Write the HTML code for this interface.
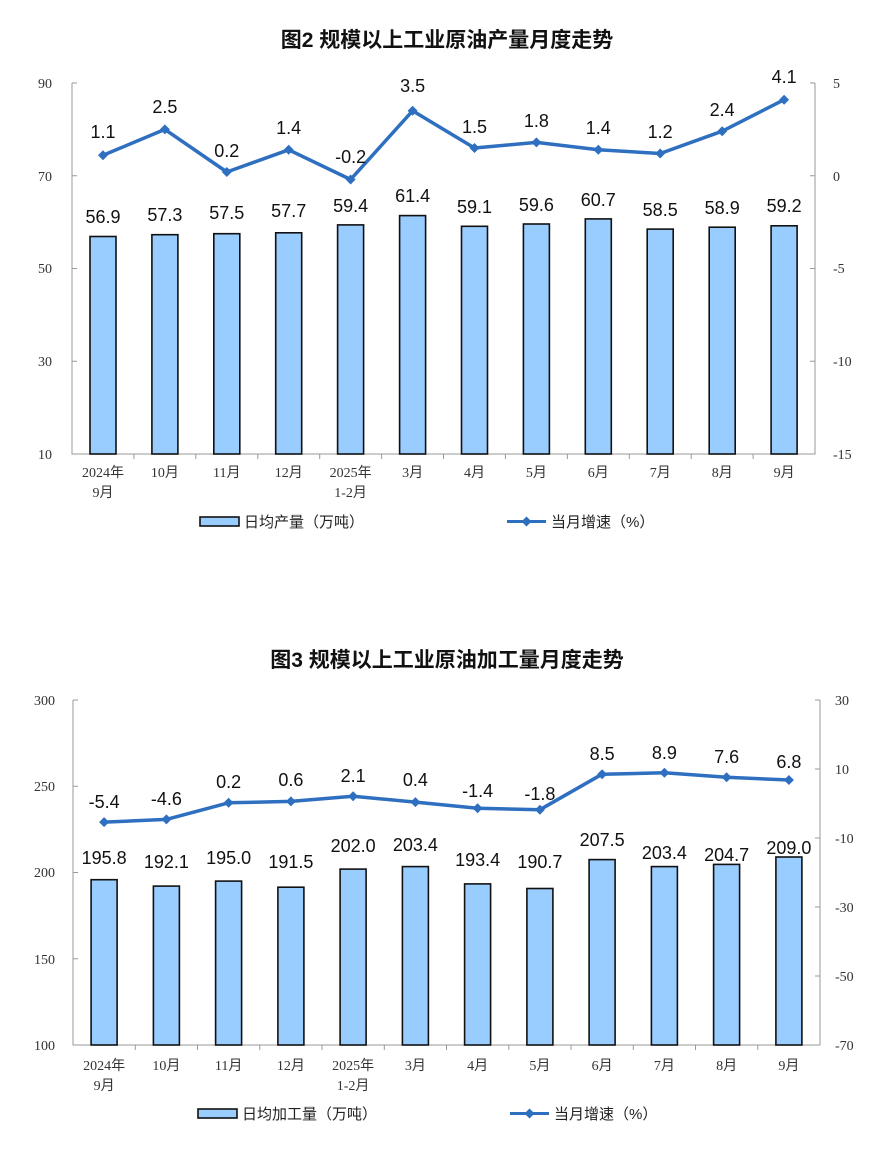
<!DOCTYPE html>
<html><head><meta charset="utf-8"><style>
html,body{margin:0;padding:0;background:#fff;}
svg{display:block;}
.t{font-family:"Liberation Sans","Noto Sans CJK SC",sans-serif;font-weight:bold;font-size:21px;fill:#111;}
.ax{font-family:"Liberation Serif","Noto Sans CJK SC",serif;font-size:14px;fill:#333;}
.cat{font-family:"Liberation Serif","Noto Sans CJK SC",serif;font-size:14px;fill:#333;}
.lb{font-family:"Liberation Sans","Noto Sans CJK SC",sans-serif;font-size:18px;fill:#111;}
.lg{font-family:"Liberation Sans","Noto Sans CJK SC",sans-serif;font-size:15px;fill:#222;}
.bar{fill:#99ccff;stroke:#111;stroke-width:1.6;}
.ln{fill:none;stroke:#2e6fc0;stroke-width:3.5;stroke-linejoin:round;}
.axl{stroke:#999;stroke-width:1;fill:none;}
</style></head><body>
<svg width="894" height="1155" viewBox="0 0 894 1155" xmlns="http://www.w3.org/2000/svg">
<defs><path id="dm" d="M0,-5 L5,0 L0,5 L-5,0Z" fill="#2e6fc0"/></defs>
<!-- Chart 1 -->
<text class="t" x="447" y="47" text-anchor="middle">图2  规模以上工业原油产量月度走势</text>
<path class="axl" d="M72,83 V454 H815 V83"/>
<path class="axl" d="M72,83h5M72,175.75h5M72,268.5h5M72,361.25h5M815,83h-5M815,175.75h-5M815,268.5h-5M815,361.25h-5M815,454h-5"/>
<path class="axl" d="M133.9,454v5M195.8,454v5M257.8,454v5M319.7,454v5M381.6,454v5M443.5,454v5M505.4,454v5M567.4,454v5M629.3,454v5M691.2,454v5M753.1,454v5"/>
<g class="ax" text-anchor="end"><text x="52" y="88">90</text><text x="52" y="181">70</text><text x="52" y="273">50</text><text x="52" y="366">30</text><text x="52" y="459">10</text></g>
<g class="ax"><text x="833" y="88">5</text><text x="833" y="181">0</text><text x="833" y="273">-5</text><text x="833" y="366">-10</text><text x="833" y="459">-15</text></g>
<g>
<rect class="bar" x="90" y="236.5" width="26" height="217.5"/>
<rect class="bar" x="151.9" y="234.7" width="26" height="219.3"/>
<rect class="bar" x="213.8" y="233.7" width="26" height="220.3"/>
<rect class="bar" x="275.7" y="232.8" width="26" height="221.2"/>
<rect class="bar" x="337.6" y="224.9" width="26" height="229.1"/>
<rect class="bar" x="399.6" y="215.6" width="26" height="238.4"/>
<rect class="bar" x="461.5" y="226.3" width="26" height="227.7"/>
<rect class="bar" x="523.4" y="224.0" width="26" height="230"/>
<rect class="bar" x="585.3" y="218.9" width="26" height="235.1"/>
<rect class="bar" x="647.2" y="229.1" width="26" height="224.9"/>
<rect class="bar" x="709.2" y="227.2" width="26" height="226.8"/>
<rect class="bar" x="771.1" y="225.8" width="26" height="228.2"/>
</g>
<g class="lb" text-anchor="middle">
<text x="103" y="223">56.9</text><text x="164.9" y="221">57.3</text><text x="226.8" y="219">57.5</text><text x="288.7" y="217">57.7</text><text x="350.6" y="212">59.4</text><text x="412.6" y="202">61.4</text><text x="474.5" y="213">59.1</text><text x="536.4" y="211">59.6</text><text x="598.3" y="206">60.7</text><text x="660.2" y="216">58.5</text><text x="722.2" y="214">58.9</text><text x="784.1" y="212">59.2</text>
</g>
<polyline class="ln" points="103,155.3 164.9,129.4 226.8,172 288.7,149.8 350.6,179.5 412.6,110.8 474.5,148 536.4,142.4 598.3,149.8 660.2,153.5 722.2,131.2 784.1,99.7"/>
<g><use href="#dm" x="103" y="155.3"/><use href="#dm" x="164.9" y="129.4"/><use href="#dm" x="226.8" y="172"/><use href="#dm" x="288.7" y="149.8"/><use href="#dm" x="350.6" y="179.5"/><use href="#dm" x="412.6" y="110.8"/><use href="#dm" x="474.5" y="148"/><use href="#dm" x="536.4" y="142.4"/><use href="#dm" x="598.3" y="149.8"/><use href="#dm" x="660.2" y="153.5"/><use href="#dm" x="722.2" y="131.2"/><use href="#dm" x="784.1" y="99.7"/></g>
<g class="lb" text-anchor="middle">
<text x="103" y="138">1.1</text><text x="164.9" y="113">2.5</text><text x="226.8" y="157">0.2</text><text x="288.7" y="134">1.4</text><text x="350.6" y="163">-0.2</text><text x="412.6" y="92">3.5</text><text x="474.5" y="133">1.5</text><text x="536.4" y="127">1.8</text><text x="598.3" y="134">1.4</text><text x="660.2" y="138">1.2</text><text x="722.2" y="116">2.4</text><text x="784.1" y="83">4.1</text>
</g>
<g class="cat" text-anchor="middle">
<text x="103" y="477">2024年</text><text x="103" y="497">9月</text><text x="164.9" y="477">10月</text><text x="226.8" y="477">11月</text><text x="288.7" y="477">12月</text><text x="350.6" y="477">2025年</text><text x="350.6" y="497">1-2月</text><text x="412.6" y="477">3月</text><text x="474.5" y="477">4月</text><text x="536.4" y="477">5月</text><text x="598.3" y="477">6月</text><text x="660.2" y="477">7月</text><text x="722.2" y="477">8月</text><text x="784.1" y="477">9月</text>
</g>
<rect x="200" y="517" width="39" height="9" fill="#99ccff" stroke="#111" stroke-width="1.6"/>
<text class="lg" x="244" y="527">日均产量（万吨）</text>
<line x1="507" y1="521.5" x2="546" y2="521.5" stroke="#2e6fc0" stroke-width="3"/><use href="#dm" x="526.5" y="521.5"/>
<text class="lg" x="551" y="527">当月增速（%）</text>

<!-- Chart 2 -->
<text class="t" x="447" y="667" text-anchor="middle">图3  规模以上工业原油加工量月度走势</text>
<path class="axl" d="M73,700 V1045 H820 V700"/>
<path class="axl" d="M73,700h5M73,786.25h5M73,872.5h5M73,958.75h5M820,700h-5M820,769h-5M820,838h-5M820,907h-5M820,976h-5M820,1045h-5"/>
<path class="axl" d="M135.3,1045v5M197.5,1045v5M259.8,1045v5M322,1045v5M384.3,1045v5M446.5,1045v5M508.8,1045v5M571,1045v5M633.3,1045v5M695.5,1045v5M757.8,1045v5"/>
<g class="ax" text-anchor="end"><text x="55" y="705">300</text><text x="55" y="791">250</text><text x="55" y="877">200</text><text x="55" y="964">150</text><text x="55" y="1050">100</text></g>
<g class="ax"><text x="835" y="705">30</text><text x="835" y="774">10</text><text x="835" y="843">-10</text><text x="835" y="912">-30</text><text x="835" y="981">-50</text><text x="835" y="1050">-70</text></g>
<g>
<rect class="bar" x="91.1" y="879.7" width="26" height="165.3"/>
<rect class="bar" x="153.4" y="886.1" width="26" height="158.9"/>
<rect class="bar" x="215.6" y="881.1" width="26" height="163.9"/>
<rect class="bar" x="277.9" y="887.2" width="26" height="157.8"/>
<rect class="bar" x="340.1" y="869.1" width="26" height="175.9"/>
<rect class="bar" x="402.4" y="866.6" width="26" height="178.4"/>
<rect class="bar" x="464.6" y="883.9" width="26" height="161.1"/>
<rect class="bar" x="526.9" y="888.5" width="26" height="156.5"/>
<rect class="bar" x="589.1" y="859.6" width="26" height="185.4"/>
<rect class="bar" x="651.4" y="866.6" width="26" height="178.4"/>
<rect class="bar" x="713.6" y="864.4" width="26" height="180.6"/>
<rect class="bar" x="775.9" y="857" width="26" height="188"/>
</g>
<g class="lb" text-anchor="middle">
<text x="104.1" y="864">195.8</text><text x="166.4" y="868">192.1</text><text x="228.6" y="864">195.0</text><text x="290.9" y="868">191.5</text><text x="353.1" y="852">202.0</text><text x="415.4" y="851">203.4</text><text x="477.6" y="866">193.4</text><text x="539.9" y="868">190.7</text><text x="602.1" y="846">207.5</text><text x="664.4" y="859">203.4</text><text x="726.6" y="861">204.7</text><text x="788.9" y="854">209.0</text>
</g>
<polyline class="ln" points="104.1,822.1 166.4,819.4 228.6,802.8 290.9,801.4 353.1,796.3 415.4,802.1 477.6,808.3 539.9,809.7 602.1,774.2 664.4,772.8 726.6,777.3 788.9,780"/>
<g><use href="#dm" x="104.1" y="822.1"/><use href="#dm" x="166.4" y="819.4"/><use href="#dm" x="228.6" y="802.8"/><use href="#dm" x="290.9" y="801.4"/><use href="#dm" x="353.1" y="796.3"/><use href="#dm" x="415.4" y="802.1"/><use href="#dm" x="477.6" y="808.3"/><use href="#dm" x="539.9" y="809.7"/><use href="#dm" x="602.1" y="774.2"/><use href="#dm" x="664.4" y="772.8"/><use href="#dm" x="726.6" y="777.3"/><use href="#dm" x="788.9" y="780"/></g>
<g class="lb" text-anchor="middle">
<text x="104.1" y="808">-5.4</text><text x="166.4" y="805">-4.6</text><text x="228.6" y="788">0.2</text><text x="290.9" y="786">0.6</text><text x="353.1" y="782">2.1</text><text x="415.4" y="786">0.4</text><text x="477.6" y="797">-1.4</text><text x="539.9" y="800">-1.8</text><text x="602.1" y="760">8.5</text><text x="664.4" y="759">8.9</text><text x="726.6" y="763">7.6</text><text x="788.9" y="768">6.8</text>
</g>
<g class="cat" text-anchor="middle">
<text x="104.1" y="1070">2024年</text><text x="104.1" y="1090">9月</text><text x="166.4" y="1070">10月</text><text x="228.6" y="1070">11月</text><text x="290.9" y="1070">12月</text><text x="353.1" y="1070">2025年</text><text x="353.1" y="1090">1-2月</text><text x="415.4" y="1070">3月</text><text x="477.6" y="1070">4月</text><text x="539.9" y="1070">5月</text><text x="602.1" y="1070">6月</text><text x="664.4" y="1070">7月</text><text x="726.6" y="1070">8月</text><text x="788.9" y="1070">9月</text>
</g>
<rect x="198" y="1109" width="39" height="9" fill="#99ccff" stroke="#111" stroke-width="1.6"/>
<text class="lg" x="242" y="1119">日均加工量（万吨）</text>
<line x1="510" y1="1113.5" x2="549" y2="1113.5" stroke="#2e6fc0" stroke-width="3"/><use href="#dm" x="529.5" y="1113.5"/>
<text class="lg" x="554" y="1119">当月增速（%）</text>
</svg>
</body></html>
